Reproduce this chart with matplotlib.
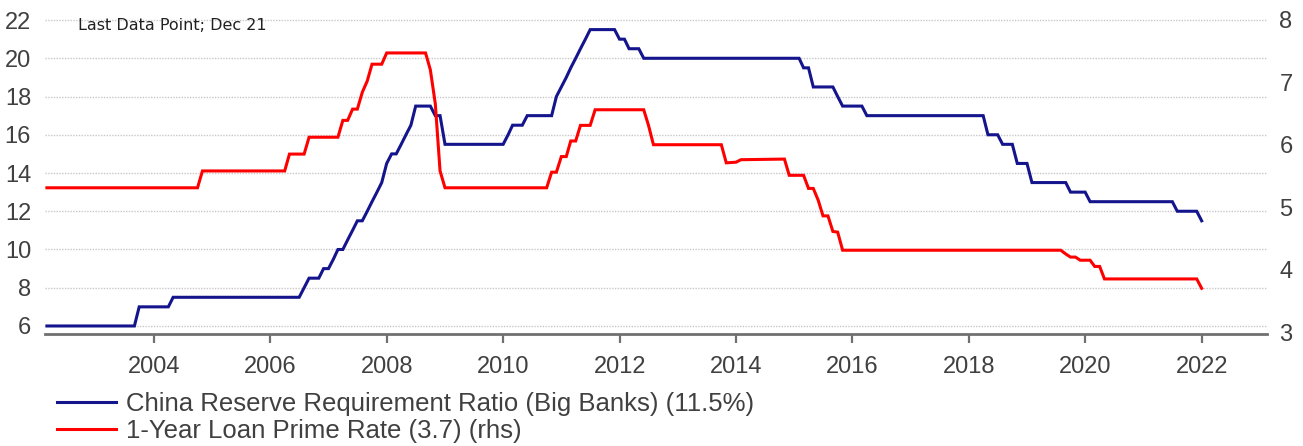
import pandas as pd
import matplotlib.pyplot as plt
import matplotlib.dates as mdates

# Reserve requirement ratio for big banks (%), month-end vertices
rrr_months = [
    "2002-02", "2003-08", "2003-09", "2004-03", "2004-04", "2006-06", "2006-07",
    "2006-08", "2006-10", "2006-11", "2006-12", "2007-01", "2007-02", "2007-03",
    "2007-04", "2007-05", "2007-06", "2007-07", "2007-08", "2007-09", "2007-10",
    "2007-11", "2007-12", "2008-01", "2008-02", "2008-03", "2008-04", "2008-05",
    "2008-06", "2008-09", "2008-10", "2008-11", "2008-12", "2009-12", "2010-01",
    "2010-02", "2010-04", "2010-05", "2010-10", "2010-11", "2010-12", "2011-01",
    "2011-02", "2011-03", "2011-04", "2011-05", "2011-06", "2011-11", "2011-12",
    "2012-01", "2012-02", "2012-04", "2012-05", "2015-01", "2015-02", "2015-03",
    "2015-04", "2015-08", "2015-09", "2015-10", "2016-02", "2016-03", "2018-03",
    "2018-04", "2018-06", "2018-07", "2018-09", "2018-10", "2018-12", "2019-01",
    "2019-08", "2019-09", "2019-12", "2020-01", "2021-06", "2021-07", "2021-11",
    "2021-12",
]
rrr_values = [
    6.0, 6.0, 7.0, 7.0, 7.5, 7.5, 8.0,
    8.5, 8.5, 9.0, 9.0, 9.5, 10.0, 10.0,
    10.5, 11.0, 11.5, 11.5, 12.0, 12.5, 13.0,
    13.5, 14.5, 15.0, 15.0, 15.5, 16.0, 16.5,
    17.5, 17.5, 17.0, 17.0, 15.5, 15.5, 16.0,
    16.5, 16.5, 17.0, 17.0, 18.0, 18.5, 19.0,
    19.5, 20.0, 20.5, 21.0, 21.5, 21.5, 21.0,
    21.0, 20.5, 20.5, 20.0, 20.0, 19.5, 19.5,
    18.5, 18.5, 18.0, 17.5, 17.5, 17.0, 17.0,
    16.0, 16.0, 15.5, 15.5, 14.5, 14.5, 13.5,
    13.5, 13.0, 13.0, 12.5, 12.5, 12.0, 12.0,
    11.5,
]

# 1-year loan prime rate (%), month-end vertices
lpr_months = [
    "2002-02", "2004-09", "2004-10", "2006-03", "2006-04", "2006-07", "2006-08",
    "2007-02", "2007-03", "2007-04", "2007-05", "2007-06", "2007-07", "2007-08",
    "2007-09", "2007-11", "2007-12", "2008-08", "2008-09", "2008-10", "2008-11",
    "2008-12", "2010-09", "2010-10", "2010-11", "2010-12", "2011-01", "2011-02",
    "2011-03", "2011-04", "2011-06", "2011-07", "2012-05", "2012-06", "2012-07",
    "2013-09", "2013-10", "2013-12", "2014-01", "2014-10", "2014-11", "2015-02",
    "2015-03", "2015-04", "2015-05", "2015-06", "2015-07", "2015-08", "2015-09",
    "2015-10", "2019-07", "2019-08", "2019-09", "2019-10", "2019-11", "2020-01",
    "2020-02", "2020-03", "2020-04", "2021-11", "2021-12",
]
lpr_values = [
    5.31, 5.31, 5.58, 5.58, 5.85, 5.85, 6.12,
    6.12, 6.39, 6.39, 6.57, 6.57, 6.84, 7.02,
    7.29, 7.29, 7.47, 7.47, 7.20, 6.66, 5.58,
    5.31, 5.31, 5.56, 5.56, 5.81, 5.81, 6.06,
    6.06, 6.31, 6.31, 6.56, 6.56, 6.31, 6.00,
    6.00, 5.71, 5.72, 5.76, 5.77, 5.51, 5.51,
    5.30, 5.30, 5.11, 4.86, 4.86, 4.61, 4.60,
    4.31, 4.31, 4.25, 4.20, 4.20, 4.15, 4.15,
    4.05, 4.05, 3.85, 3.85, 3.70,
]

year_ticks = [2004, 2006, 2008, 2010, 2012, 2014, 2016, 2018, 2020, 2022]
left_ticks = [6, 8, 10, 12, 14, 16, 18, 20, 22]
right_ticks = [3, 4, 5, 6, 7, 8]

rrr_label = "China Reserve Requirement Ratio (Big Banks) (11.5%)"
lpr_label = "1-Year Loan Prime Rate (3.7) (rhs)"

BLUE = "#14148c"
RED = "#ff0000"
TEXT = "#404040"


def month_end(months):
    return pd.to_datetime(months) + pd.offsets.MonthEnd(0)


def main():
    plt.rcParams["font.family"] = ["Liberation Sans", "DejaVu Sans"]

    fig = plt.figure(figsize=(13.03, 4.46), dpi=100)
    ax = fig.add_axes([45 / 1303, 1 - 334 / 446, 1222 / 1303, 326 / 446])
    ax2 = ax.twinx()

    ax.plot(month_end(rrr_months), rrr_values, color=BLUE, lw=2.2,
            solid_joinstyle="miter", label=rrr_label)
    ax2.plot(month_end(lpr_months), lpr_values, color=RED, lw=2.2,
             solid_joinstyle="miter", label=lpr_label)

    # axis ranges
    ax.set_xlim(pd.Timestamp("2002-02-16"), pd.Timestamp("2023-02-14"))
    ax.set_ylim(5.58, 22.63)
    ax2.set_ylim(2.968, 8.19)

    ax.set_xticks([pd.Timestamp(f"{y}-01-01") for y in year_ticks])
    ax.xaxis.set_major_formatter(mdates.DateFormatter("%Y"))
    ax.set_yticks(left_ticks)
    ax2.set_yticks(right_ticks)

    # horizontal dotted grid from the left scale only
    ax.grid(axis="y", color="#c8c8c8", lw=1.0, linestyle=(0, (1, 1)))
    ax.grid(axis="x", visible=False)
    ax.set_axisbelow(True)

    for a in (ax, ax2):
        for side in ("left", "right", "top"):
            a.spines[side].set_visible(False)
    ax2.spines["bottom"].set_visible(False)
    ax.spines["bottom"].set_color("#707070")
    ax.spines["bottom"].set_linewidth(2)

    ax.tick_params(axis="x", direction="out", length=6.5, width=1.6, color="#707070",
                   labelsize=17, labelcolor=TEXT, pad=9)
    ax.tick_params(axis="y", length=0, labelsize=17, labelcolor=TEXT, pad=10)
    ax2.tick_params(axis="y", length=0, labelsize=17, labelcolor=TEXT, pad=9)

    fig.text(78 / 1303, 1 - 25 / 446, "Last Data Point; Dec 21", fontsize=11.5,
             family="DejaVu Sans", color="#202020", va="center", ha="left")

    handles = ax.get_lines() + ax2.get_lines()
    fig.legend(handles, [h.get_label() for h in handles], loc="upper left",
               bbox_to_anchor=(57 / 1303, 1 - 392 / 446), frameon=False,
               fontsize=18.5, labelcolor=TEXT, handlelength=2.3,
               handletextpad=0.4, labelspacing=0.1, borderpad=0, borderaxespad=0)

    fig.savefig("out.png", dpi=100)


if __name__ == "__main__":
    main()
